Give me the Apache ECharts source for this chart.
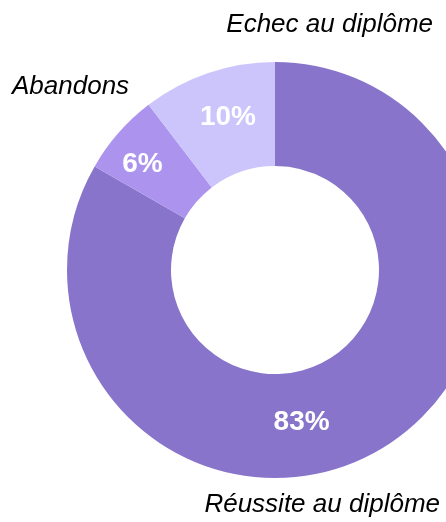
<!DOCTYPE html>
<html>
<head>
<meta charset="utf-8">
<script src="https://cdn.jsdelivr.net/npm/echarts@6/dist/echarts.min.js"></script>
<style>
html,body{margin:0;padding:0;background:#fff;}
#chart{width:446px;height:522px;}
</style>
</head>
<body>
<div id="chart"></div>
<script>
var categories = ['Réussite au diplôme', 'Abandons', 'Echec au diplôme'];
var values = [83.3, 6.3, 10.4];
var percentLabels = ['83%', '6%', '10%'];
var colors = ['#8874CA', '#AC94EE', '#CCC5FB'];

var labelOffsets = [[-53, 15], [-13, -1], [4, -2]];
var namePositions = [
  { x: 440, y: 518, align: 'right' },
  { x: 12, y: 100, align: 'left' },
  { x: 433, y: 38, align: 'right' }
];

var chart = echarts.init(document.getElementById('chart'), null, { renderer: 'canvas' });

var data = categories.map(function (c, i) {
  return {
    name: c,
    value: values[i],
    itemStyle: { color: colors[i] },
    label: { offset: labelOffsets[i] }
  };
});

chart.setOption({
  animation: false,
  backgroundColor: '#ffffff',
  series: [{
    type: 'pie',
    center: [275, 270],
    radius: [104, 208],
    startAngle: 90,
    clockwise: true,
    avoidLabelOverlap: false,
    silent: true,
    label: {
      show: true,
      position: 'inside',
      color: '#ffffff',
      fontFamily: 'Liberation Sans, Arial, sans-serif',
      fontWeight: 'bold',
      fontSize: 28,
      formatter: function (p) { return percentLabels[p.dataIndex]; }
    },
    labelLine: { show: false },
    itemStyle: { borderWidth: 0 },
    data: data
  }],
  graphic: categories.map(function (c, i) {
    return {
      type: 'text',
      x: namePositions[i].x,
      y: namePositions[i].y,
      style: {
        text: c,
        fill: '#000000',
        font: 'italic 26px "Liberation Sans", Arial, sans-serif',
        textAlign: namePositions[i].align,
        textVerticalAlign: 'bottom'
      }
    };
  })
});
</script>
</body>
</html>
